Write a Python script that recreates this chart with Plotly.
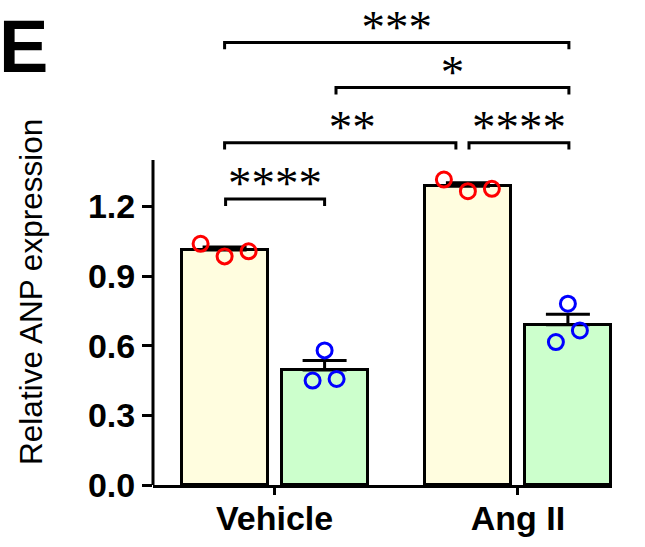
import plotly.graph_objects as go

# ---- data ----
groups = ["Vehicle", "Ang II"]
conditions = ["ctrl", "treat"]
bar_means = [1.012, 0.496, 1.287, 0.690]          # V-yellow, V-green, A-yellow, A-green
bar_sem = [0.013, 0.040, 0.015, 0.046]
points = [
    [1.039, 0.985, 1.007],
    [0.450, 0.580, 0.457],
    [1.316, 1.266, 1.276],
    [0.616, 0.781, 0.666],
]
y_ticks = [0.0, 0.3, 0.6, 0.9, 1.2]
y_axis_top = 1.40
comparisons = [  # (bar i, bar j, level, label)
    (0, 3, 1.907, "***"),
    (1, 3, 1.713, "*"),
    (0, 2, 1.475, "**"),
    (2, 3, 1.475, "****"),
    (0, 1, 1.232, "****"),
]

# ---- styling / geometry ----
FONT = "Liberation Sans, Arial, sans-serif"
fills = ["#FFFDDF", "#CCFFCC", "#FFFDDF", "#CCFFCC"]
pt_colors = ["#FF0000", "#0000FF", "#FF0000", "#0000FF"]
group_gap = 2.433
bar_x = [g * group_gap + (c - 0.5) for g in range(len(groups)) for c in range(len(conditions))]
group_x = [g * group_gap for g in range(len(groups))]
jitter = [[-0.24, 0, 0.24], [-0.12, 0, 0.12], [-0.24, 0, 0.24], [-0.12, 0, 0.12]]
br_shift = [(0.0, 0.01), (0.114, 0.01), (0.0, -0.12), (0.011, 0.01), (0.01, 0.0)]
lbl_shift = [0.0, 0.0, 0.12, 0.0, 0.0]
tick_drop = 0.03
W, H = 645, 547
ML, MR, MT, MB = 153, 33, 0, 62
plot_h = H - MT - MB
y_top = plot_h / 232.1

fig = go.Figure()
fig.add_trace(go.Bar(
    x=bar_x, y=bar_means, width=0.86,
    marker=dict(color=fills, line=dict(color="black", width=3)),
    error_y=dict(type="data", array=bar_sem, arrayminus=[0] * len(bar_sem),
                 symmetric=False, color="black", thickness=3, width=22),
    showlegend=False, hoverinfo="skip",
))
for i, vals in enumerate(points):
    fig.add_trace(go.Scatter(
        x=[bar_x[i] + d for d in jitter[i]], y=vals, mode="markers",
        marker=dict(symbol="circle-open", size=15, color=pt_colors[i],
                    line=dict(width=3, color=pt_colors[i])),
        showlegend=False, hoverinfo="skip", cliponaxis=False,
    ))

for k, (i, j, lvl, lab) in enumerate(comparisons):
    xa = bar_x[i] + br_shift[k][0]
    xb = bar_x[j] + br_shift[k][1]
    fig.add_trace(go.Scatter(
        x=[xa, xa, xb, xb], y=[lvl - tick_drop, lvl, lvl, lvl - tick_drop],
        mode="lines", line=dict(color="black", width=3),
        showlegend=False, hoverinfo="skip", cliponaxis=False,
    ))
    fig.add_trace(go.Scatter(
        x=[(xa + xb) / 2 + lbl_shift[k]], y=[lvl + 0.05], mode="text", text=[lab],
        textposition="middle center",
        textfont=dict(family="Liberation Serif, Times New Roman, serif", size=47, color="black"),
        showlegend=False, hoverinfo="skip", cliponaxis=False,
    ))

fig.update_layout(
    width=W, height=H,
    margin=dict(l=ML, r=MR, t=MT, b=MB, autoexpand=False),
    paper_bgcolor="white", plot_bgcolor="white",
    font=dict(family=FONT, color="black"),
    bargap=0,
    xaxis=dict(range=[-1.216, 3.374], tickmode="array", tickvals=group_x, ticktext=groups,
               showline=True, linecolor="black", linewidth=3, ticks="outside",
               ticklen=7, tickwidth=3, tickcolor="black", showgrid=False, zeroline=False,
               ticklabelstandoff=-6,
               tickfont=dict(family=FONT, size=34, color="black", weight="bold")),
    yaxis=dict(range=[0, y_top], tickmode="array", tickvals=y_ticks,
               ticktext=[f"{v:.1f}" for v in y_ticks],
               showline=False, ticks="outside",
               ticklen=10, tickwidth=3, tickcolor="black", showgrid=False, zeroline=False,
               tickfont=dict(family=FONT, size=34, color="black", weight="bold")),
    shapes=[dict(type="line", xref="paper", yref="y", x0=0, x1=0, y0=-0.006, y1=y_axis_top,
                 line=dict(color="black", width=3), layer="above")],
    annotations=[
        dict(text="Relative ANP expression", textangle=-90, xref="paper", yref="paper",
             x=(31.5 - ML) / (W - ML - MR), y=(485 - 292.4) / plot_h,
             xanchor="center", yanchor="middle", showarrow=False,
             font=dict(family=FONT, size=31.5, color="black")),
        dict(text="E", xref="paper", yref="paper",
             x=(-3 - ML) / (W - ML - MR), y=(plot_h - 3) / plot_h,
             xanchor="left", yanchor="top", showarrow=False,
             font=dict(family=FONT, size=74, color="black", weight="bold")),
    ],
)

fig.write_html("out.html", config={"displayModeBar": False},
               post_script="document.body.style.margin='0';document.body.style.padding='0';")
